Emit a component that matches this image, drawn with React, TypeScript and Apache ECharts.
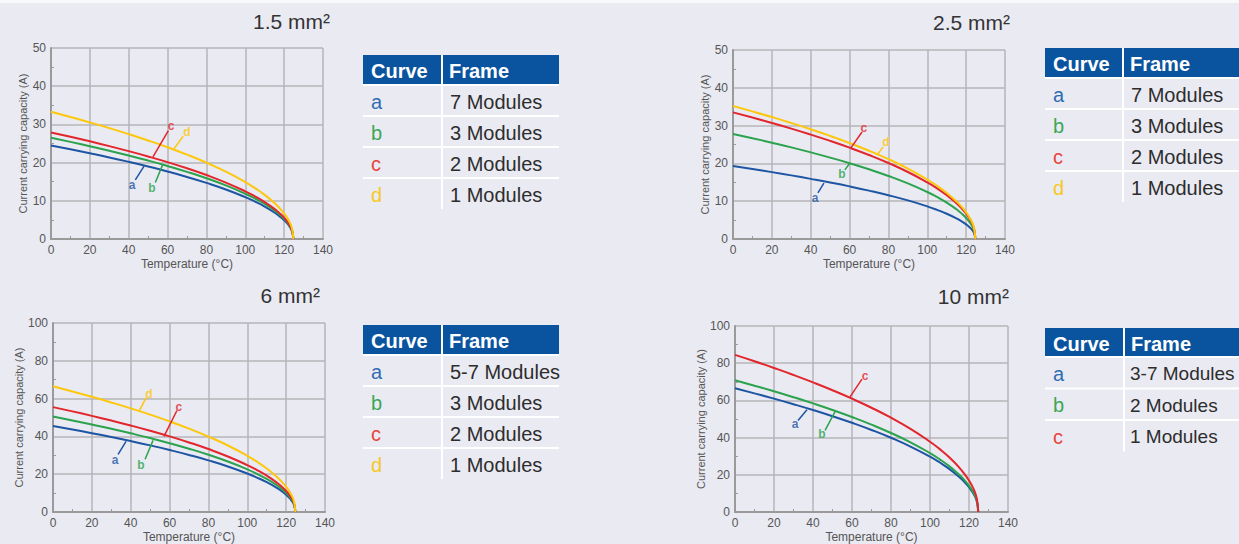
import React, { useEffect, useRef } from "react";
import * as echarts from "echarts";

// Temperatures (°C) at which the curves were read
const TEMPS = [0, 10, 20, 30, 40, 50, 60, 70, 80, 90, 100, 105, 110, 115, 118, 120, 122, 123.5, 124.3, 124.7];

// 1.5 mm²
const S15_A = [24.5, 23.5, 22.45, 21.36, 20.2, 18.98, 17.67, 16.25, 14.7, 12.97, 10.96, 9.8, 8.49, 6.93, 5.8, 4.9, 3.8, 2.68, 1.55, 0];
const S15_B = [26.5, 25.42, 24.29, 23.1, 21.85, 20.53, 19.11, 17.58, 15.9, 14.02, 11.85, 10.6, 9.18, 7.49, 6.27, 5.3, 4.1, 2.9, 1.67, 0];
const S15_C = [27.9, 26.76, 25.57, 24.32, 23.01, 21.61, 20.12, 18.51, 16.74, 14.76, 12.48, 11.16, 9.66, 7.89, 6.6, 5.58, 4.32, 3.06, 1.76, 0];
const S15_D = [33.3, 31.94, 30.52, 29.03, 27.46, 25.79, 24.01, 22.09, 19.98, 17.62, 14.89, 13.32, 11.54, 9.42, 7.88, 6.66, 5.16, 3.65, 2.1, 0];

// 2.5 mm²
const S25_A = [19.3, 18.51, 17.69, 16.83, 15.91, 14.95, 13.92, 12.8, 11.58, 10.21, 8.63, 7.72, 6.69, 5.46, 4.57, 3.86, 2.99, 2.11, 1.22, 0];
const S25_B = [27.8, 26.67, 25.48, 24.24, 22.92, 21.53, 20.05, 18.44, 16.68, 14.71, 12.43, 11.12, 9.63, 7.86, 6.58, 5.56, 4.31, 3.04, 1.76, 0];
const S25_C = [33.5, 32.13, 30.7, 29.21, 27.62, 25.95, 24.16, 22.22, 20.1, 17.73, 14.98, 13.4, 11.6, 9.47, 7.93, 6.7, 5.19, 3.67, 2.12, 0];
const S25_D = [35.2, 33.76, 32.26, 30.69, 29.03, 27.27, 25.38, 23.35, 21.12, 18.63, 15.74, 14.08, 12.19, 9.95, 8.33, 7.04, 5.45, 3.85, 2.22, 0];

// 6 mm²
const S6_A = [45.5, 43.64, 41.7, 39.67, 37.52, 35.24, 32.81, 30.18, 27.3, 24.08, 20.35, 18.2, 15.76, 12.87, 10.77, 9.1, 7.05, 4.98, 2.88, 0];
const S6_B = [50.5, 48.44, 46.28, 44.03, 41.64, 39.12, 36.42, 33.5, 30.3, 26.72, 22.58, 20.2, 17.49, 14.28, 11.95, 10.1, 7.82, 5.53, 3.19, 0];
const S6_C = [55.5, 53.24, 50.87, 48.38, 45.77, 42.99, 40.02, 36.81, 33.3, 29.37, 24.82, 22.2, 19.23, 15.7, 13.13, 11.1, 8.6, 6.08, 3.51, 0];
const S6_D = [66.5, 63.79, 60.95, 57.97, 54.84, 51.51, 47.95, 44.11, 39.9, 35.19, 29.74, 26.6, 23.04, 18.81, 15.73, 13.3, 10.3, 7.28, 4.2, 0];

// 10 mm²
const S10_A = [66.5, 63.79, 60.95, 57.97, 54.84, 51.51, 47.95, 44.11, 39.9, 35.19, 29.74, 26.6, 23.04, 18.81, 15.73, 13.3, 10.3, 7.28, 4.2, 0];
const S10_B = [70.8, 67.91, 64.89, 61.72, 58.38, 54.84, 51.05, 46.96, 42.48, 37.47, 31.66, 28.32, 24.53, 20.02, 16.75, 14.16, 10.97, 7.75, 4.47, 0];
const S10_C = [84.5, 81.05, 77.44, 73.67, 69.68, 65.45, 60.93, 56.05, 50.7, 44.72, 37.79, 33.8, 29.27, 23.9, 19.99, 16.9, 13.09, 9.25, 5.34, 0];

// Curve label annotations: [textT, textI, leaderFromT, leaderFromI, leaderToT, leaderToI]
const ANN_15 = [[41.7, 14.1, 43.4, 15.5, 47.9, 19.1], [52, 13.4, 53.7, 14.8, 57.6, 19.6], [61.8, 29.6, 60.4, 28.4, 52.5, 21.5], [70, 28, 68, 26.9, 63.3, 23.6]];
const ANN_25 = [[42.2, 10.8, 43.7, 12.2, 46.8, 14.8], [56.1, 17.2, 57.6, 18.3, 60.2, 20.1], [67.4, 29.4, 66.4, 28.3, 60.7, 24.1], [78.7, 25.7, 77.2, 24.3, 74.1, 22.2]];
const ANN_6 = [[31.9, 27.4, 33.5, 30.5, 37.6, 37.4], [45.3, 24.7, 47.4, 27.9, 51.5, 37.9], [64.8, 55.8, 63.8, 53.7, 57.1, 40], [49.4, 62.6, 47.9, 60.5, 44.3, 53.2]];
const ANN_10 = [[30.8, 47.1, 32.3, 49.2, 36.9, 55], [44.6, 41.8, 46.2, 43.9, 51.3, 54], [66.7, 73, 65.1, 71.4, 59, 61.9]];

const TITLES = ["1.5 mm²", "2.5 mm²", "6 mm²", "10 mm²"];
const Y_MAX = [50, 50, 100, 100];
const Y_STEP = [10, 10, 20, 20];
const LETTERS = ["a", "b", "c", "d"];
const FRAMES_15 = ["7 Modules", "3 Modules", "2 Modules", "1 Modules"];
const FRAMES_25 = ["7 Modules", "3 Modules", "2 Modules", "1 Modules"];
const FRAMES_6 = ["5-7 Modules", "3 Modules", "2 Modules", "1 Modules"];
const FRAMES_10 = ["3-7 Modules", "2 Modules", "1 Modules"];

const PANELS = [
  { curves: [S15_A, S15_B, S15_C, S15_D], ann: ANN_15, frames: FRAMES_15 },
  { curves: [S25_A, S25_B, S25_C, S25_D], ann: ANN_25, frames: FRAMES_25 },
  { curves: [S6_A, S6_B, S6_C, S6_D], ann: ANN_6, frames: FRAMES_6 },
  { curves: [S10_A, S10_B, S10_C], ann: ANN_10, frames: FRAMES_10 },
];

// Layout / style
const LINE_COLORS = ["#1d55a3", "#2ba34d", "#e2262c", "#fdc70c"];
const TEXT_COLORS = ["#2f6cb2", "#3aa757", "#e6453e", "#f6c81e"];
const BG = "#eaeaf3";
const HEAD = "#0a549f";
const GRIDS = [
  { left: 51, top: 48, width: 272, height: 191 },
  { left: 733, top: 50, width: 272, height: 189 },
  { left: 53, top: 323, width: 272, height: 190 },
  { left: 735, top: 326, width: 273, height: 189 },
];
const TITLE_POS = [
  { x: 330, y: 21 },
  { x: 1010, y: 22 },
  { x: 320, y: 295 },
  { x: 1009, y: 296 },
];
const TABLES = [
  { x: 363, y: 55, w: 196, col: 79, head: 30, row: 31, fs: 20, pad: 8 },
  { x: 1045, y: 48, w: 200, col: 78, head: 30, row: 31, fs: 20, pad: 8 },
  { x: 363, y: 325, w: 196, col: 79, head: 30, row: 31, fs: 20, pad: 8 },
  { x: 1045, y: 328, w: 200, col: 79, head: 29, row: 31.5, fs: 19, pad: 6 },
];
const FONT = "'Liberation Sans', Arial, sans-serif";

function buildOption() {
  const grid: any[] = [];
  const xAxis: any[] = [];
  const yAxis: any[] = [];
  const series: any[] = [];
  const graphic: any[] = [
    { type: "rect", shape: { x: 0, y: 0, width: 1239, height: 3 }, style: { fill: "#f9f9fc" } },
  ];

  PANELS.forEach((p, i) => {
    grid.push({ ...GRIDS[i], containLabel: false });
    const axisCommon = {
      gridIndex: i,
      type: "value",
      nameLocation: "middle",
      axisLine: { show: true, lineStyle: { color: "#9a9a9a", width: 2 } },
      axisTick: { show: false, inside: true },
      minorTick: { show: true, splitNumber: 2, length: 3, lineStyle: { color: "#9a9a9a", width: 1 } },
      splitLine: { show: true, lineStyle: { color: "#b4b4b8", width: 1.5 } },
      axisLabel: { fontSize: 12, color: "#555", fontFamily: FONT },
    };
    xAxis.push({
      ...axisCommon,
      min: 0,
      max: 140,
      interval: 20,
      name: "Temperature (°C)",
      nameGap: 19,
      nameTextStyle: { fontSize: 12, color: "#555", fontFamily: FONT },
      axisLabel: { ...axisCommon.axisLabel, margin: 5 },
    });
    yAxis.push({
      ...axisCommon,
      min: 0,
      max: Y_MAX[i],
      interval: Y_STEP[i],
      name: "Current carrying capacity (A)",
      nameGap: 23,
      nameTextStyle: { fontSize: 11, color: "#555", fontFamily: FONT },
      axisLabel: { ...axisCommon.axisLabel, margin: 5 },
    });

    p.curves.forEach((vals, k) => {
      series.push({
        type: "line",
        xAxisIndex: i,
        yAxisIndex: i,
        data: TEMPS.map((t, j) => [t, vals[j]]),
        smooth: true,
        showSymbol: false,
        silent: true,
        lineStyle: { width: 2, color: LINE_COLORS[k] },
        z: 3,
      });
    });

    p.ann.forEach((a, k) => {
      series.push({
        type: "line",
        xAxisIndex: i,
        yAxisIndex: i,
        data: [[a[2], a[3]], [a[4], a[5]]],
        showSymbol: false,
        silent: true,
        lineStyle: { width: 1.5, color: LINE_COLORS[k] },
        z: 4,
      });
    });
    series.push({
      type: "scatter",
      xAxisIndex: i,
      yAxisIndex: i,
      symbolSize: 1,
      silent: true,
      itemStyle: { color: "rgba(0,0,0,0)" },
      data: p.ann.map((a, k) => ({
        value: [a[0], a[1]],
        label: {
          show: true,
          position: "inside",
          formatter: LETTERS[k],
          color: LINE_COLORS[k],
          fontSize: 12,
          fontWeight: "bold",
          fontFamily: FONT,
        },
      })),
      z: 5,
    });

    // Title
    graphic.push({
      type: "text",
      style: {
        text: TITLES[i],
        x: TITLE_POS[i].x,
        y: TITLE_POS[i].y,
        align: "right",
        verticalAlign: "middle",
        fill: "#333",
        fontSize: 21,
        fontFamily: FONT,
      },
    });

    // Table
    const t = TABLES[i];
    const n = p.frames.length;
    const bottom = t.y + t.head + n * t.row;
    graphic.push({ type: "rect", shape: { x: t.x, y: t.y, width: t.w, height: t.head }, style: { fill: HEAD } });
    graphic.push({
      type: "text",
      style: { text: "Curve", x: t.x + 8, y: t.y + t.head / 2 + 1, verticalAlign: "middle", fill: "#fff", fontSize: 20, fontWeight: "bold", fontFamily: FONT },
    });
    graphic.push({
      type: "text",
      style: { text: "Frame", x: t.x + t.col + 7, y: t.y + t.head / 2 + 1, verticalAlign: "middle", fill: "#fff", fontSize: 20, fontWeight: "bold", fontFamily: FONT },
    });
    for (let r = 0; r < n; r++) {
      const top = t.y + t.head + r * t.row;
      graphic.push({ type: "rect", shape: { x: t.x, y: top - 1, width: t.w, height: 2 }, style: { fill: "#ffffff" } });
      graphic.push({
        type: "text",
        style: { text: LETTERS[r], x: t.x + 8, y: top + t.row / 2 + 1, verticalAlign: "middle", fill: TEXT_COLORS[r], fontSize: 20, fontFamily: FONT },
      });
      graphic.push({
        type: "text",
        style: { text: p.frames[r], x: t.x + t.col + t.pad, y: top + t.row / 2 + 1, verticalAlign: "middle", fill: "#2d2d2d", fontSize: t.fs, fontFamily: FONT },
      });
    }
    graphic.push({ type: "rect", shape: { x: t.x + t.col - 1, y: t.y, width: 2, height: bottom - t.y }, style: { fill: "#ffffff" } });
  });

  return {
    animation: false,
    backgroundColor: BG,
    grid,
    xAxis,
    yAxis,
    series,
    graphic,
  };
}

export default function App() {
  const ref = useRef<HTMLDivElement>(null);
  useEffect(() => {
    if (!ref.current) return;
    const chart = echarts.init(ref.current, null, { renderer: "svg" });
    chart.setOption(buildOption() as any);
    return () => chart.dispose();
  }, []);
  return <div ref={ref} style={{ position: "absolute", left: 0, top: 0, width: 1239, height: 544 }} />;
}
